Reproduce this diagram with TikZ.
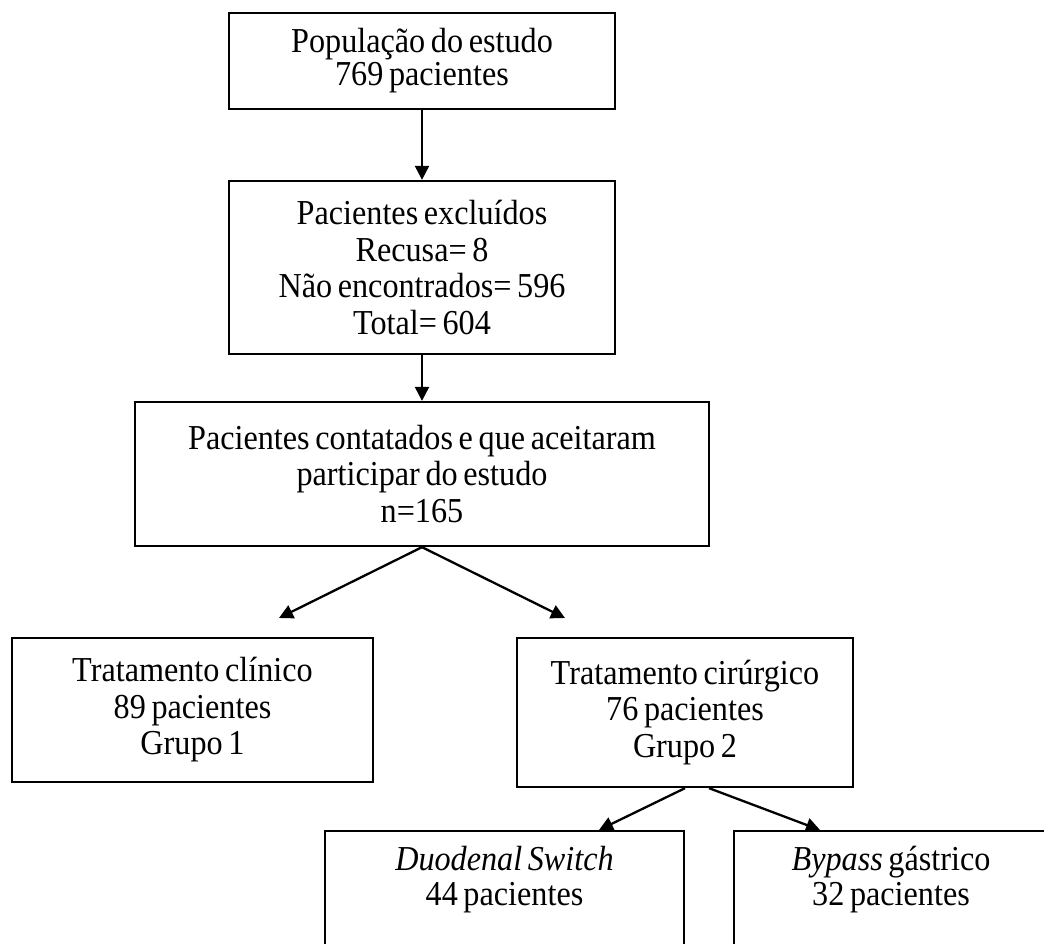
\documentclass[tikz,border=0pt]{standalone}
\usepackage{fontspec}
\setmainfont{Liberation Serif}[FakeStretch=0.92,WordSpace=0.7]
\usetikzlibrary{arrows.meta,calc}
\begin{document}
\begin{tikzpicture}[x=1pt,y=-1pt,
  box/.style={draw, line width=2.3pt, rectangle, inner sep=0pt, align=center,
    font=\fontsize{35}{36.5}\selectfont},
  txt/.style={inner sep=0pt, align=center, font=\fontsize{35}{35}\selectfont},
  arr/.style={line width=2.3pt, -{Triangle[length=14pt,width=14pt]}}]
\useasboundingbox (0,0) rectangle (1044,944);
\fill[white] (0,0) rectangle (1044,944);
\clip (0,0) rectangle (1044,944);
% boxes
\node[box, minimum width=386pt, minimum height=96pt, font=\fontsize{35}{33}\selectfont]
  (pop) at (422,61) {População do estudo\\769 pacientes};
\node[box, minimum width=386pt, minimum height=173pt]
  (exc) at (422,267.5) {Pacientes excluídos\\Recusa= 8\\Não encontrados= 596\\Total= 604};
\node[box, minimum width=574pt, minimum height=144pt]
  (part) at (422,474) {Pacientes contatados e que aceitaram\\participar do estudo\\n=165};
\node[box, minimum width=361pt, minimum height=144pt]
  (cli) at (192.5,710) {Tratamento clínico\\89 pacientes\\Grupo 1};
\node[box, minimum width=336pt, minimum height=149pt]
  (cir) at (685,712.5) {Tratamento cirúrgico\\76 pacientes\\Grupo 2};
\node[box, minimum width=359pt, minimum height=170pt, anchor=north]
  (dsw) at (504.5,830) {};
\node[box, minimum width=314pt, minimum height=170pt, anchor=north]
  (byp) at (891,830) {};
\node[txt, anchor=north] (dswt) at (504.5,846) {\textit{Duodenal Switch}\\44 pacientes};
\node[txt, anchor=north] (bypt) at (891,846) {\textit{Bypass} gástrico\\32 pacientes};
% free arrow ends
\coordinate (t1) at (279,618);
\coordinate (t2) at (565,618);
\coordinate (t3) at (599,830);
\coordinate (t4) at (820,830);
% connectors
\draw[arr] (pop.south) -- (exc.north);
\draw[arr] (exc.south) -- (part.north);
\draw[arr] (part.south) -- (t1);
\draw[arr] (part.south) -- (t2);
\draw[arr] (cir.south) -- (t3);
\draw[arr] ($(cir.south)+(24,0)$) -- (t4);
\end{tikzpicture}
\end{document}
